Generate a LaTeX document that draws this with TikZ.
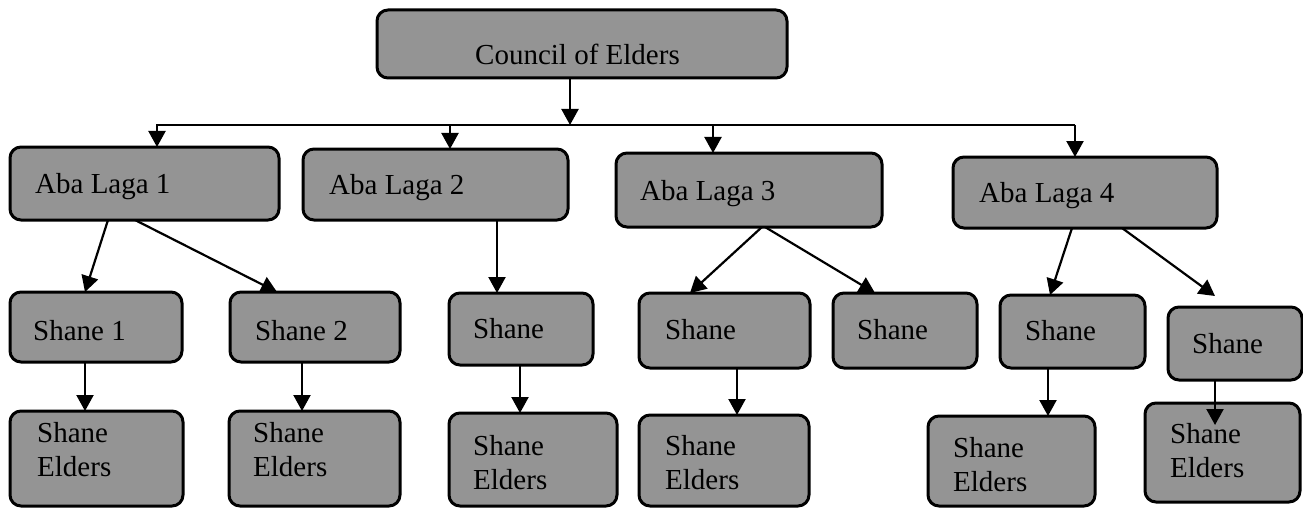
\documentclass[tikz,border=0pt]{standalone}
\usepackage{fontspec}
\setmainfont{Liberation Serif}
\usetikzlibrary{arrows.meta,calc}
\definecolor{boxgray}{RGB}{148,148,148}

% rounded grey box from its top-left to its bottom-right corner
\newcommand\grayblock[5]{%
  \node[box, anchor=north west, minimum width={(#4)-(#2)}, minimum height={(#5)-(#3)}] (#1) at (#2,#3) {};}
% two-line label, placed by the baseline of its first line
\newcommand\twolines[2]{\begin{tabular}[t]{@{}l@{}}#1\\#2\end{tabular}}

\begin{document}
\begin{tikzpicture}[x=1pt,y=-1pt,
  box/.style={draw=black, line width=3pt, fill=boxgray, rounded corners=11pt, inner sep=0pt, outer sep=0pt},
  lbl/.style={inner sep=0pt, anchor=base west, font=\fontsize{29}{34}\selectfont},
  link/.style={draw=black, line width=2.2pt, line join=miter, -{Triangle[width=17pt,length=16pt]}},
]
\useasboundingbox (0,0) rectangle (1303,508);
\fill[white] (0,0) rectangle (1303,508);
\clip (0,0) rectangle (1303,508);

% top level
\grayblock{council}{377}{10}{787}{78}
\node[lbl] (councilt) at (475,65) {Council of Elders};

% Aba Laga level
\grayblock{a1}{10}{147}{279}{220}
\grayblock{a2}{303}{149}{568}{220}
\grayblock{a3}{616}{153}{882}{227}
\grayblock{a4}{953}{157}{1217}{228}
\node[lbl] (a1t) at (35,193)  {Aba Laga 1};
\node[lbl] (a2t) at (329,194) {Aba Laga 2};
\node[lbl] (a3t) at (640,200) {Aba Laga 3};
\node[lbl] (a4t) at (979,202) {Aba Laga 4};

% Shane level
\grayblock{s1}{10}{292}{182}{362}
\grayblock{s2}{230}{292}{400}{362}
\grayblock{s3}{449}{293}{593}{365}
\grayblock{s4}{639}{293}{810}{368}
\grayblock{s5}{833}{293}{977}{368}
\grayblock{s6}{1000}{295}{1145}{368}
\grayblock{s7}{1168}{307}{1302}{380}
\node[lbl] (s1t) at (33,340)   {Shane 1};
\node[lbl] (s2t) at (255,340)  {Shane 2};
\node[lbl] (s3t) at (473,338)  {Shane};
\node[lbl] (s4t) at (665,339)  {Shane};
\node[lbl] (s5t) at (857,339)  {Shane};
\node[lbl] (s6t) at (1025,340) {Shane};
\node[lbl] (s7t) at (1192,353) {Shane};

% Shane Elders level
\grayblock{e1}{10}{411}{183}{506}
\grayblock{e2}{229}{411}{400}{506}
\grayblock{e3}{449}{413}{617}{506}
\grayblock{e4}{639}{415}{809}{506}
\grayblock{e5}{928}{416}{1095}{506}
\grayblock{e6}{1145}{403}{1300}{502}

% connectors: council to the Aba Laga row
\coordinate (busL) at (157,125);
\coordinate (busM1) at (450,125);
\coordinate (busC) at (570,125);
\coordinate (busM2) at (713,125);
\coordinate (busR) at (1075,125);
\draw[link] (570,0 |- council.south) -- (busC);
\draw[link] (busR) -- (busL) -- (busL |- a1.north);
\draw[link] (busM1) -- (busM1 |- a2.north);
\draw[link] (busM2) -- (busM2 |- a3.north);
\draw[link] (busR) -- (busR |- a4.north);

% Aba Laga to Shane
\draw[link] ($(a1.south west)+(98,0)$)  -- ($(s1.north west)+(75,0)$);
\draw[link] ($(a1.south west)+(125,0)$) -- ($(s2.north west)+(47,0)$);
\draw[link] (497,0 |- a2.south) -- (497,0 |- s3.north);
\draw[link] ($(a3.south west)+(146,0)$) -- ($(s4.north west)+(51,0)$);
\draw[link] ($(a3.south west)+(149,0)$) -- ($(s5.north west)+(42,0)$);
\draw[link] ($(a4.south west)+(119,0)$) -- ($(s6.north west)+(50,0)$);
\coordinate (s7tip) at (1215,296);
\draw[link] ($(a4.south west)+(169,0)$) -- (s7tip);

% Shane to Shane Elders
\draw[link] (85,0 |- s1.south)  -- (85,0 |- e1.north);
\draw[link] (302,0 |- s2.south) -- (302,0 |- e2.north);
\draw[link] (520,0 |- s3.south) -- (520,0 |- e3.north);
\draw[link] (737,0 |- s4.south) -- (737,0 |- e4.north);
\draw[link] (1048,0 |- s6.south) -- (1048,0 |- e5.north);
\coordinate (e6tip) at (1215,425);
\draw[link] (1215,0 |- s7.south) -- (e6tip);

% labels of the bottom row
\node[lbl] (e1t) at (37,442)   {\twolines{Shane}{Elders}};
\node[lbl] (e2t) at (253,442)  {\twolines{Shane}{Elders}};
\node[lbl] (e3t) at (473,455)  {\twolines{Shane}{Elders}};
\node[lbl] (e4t) at (665,455)  {\twolines{Shane}{Elders}};
\node[lbl] (e5t) at (953,457)  {\twolines{Shane}{Elders}};
\node[lbl] (e6t) at (1170,443) {\twolines{Shane}{Elders}};
\end{tikzpicture}
\end{document}
